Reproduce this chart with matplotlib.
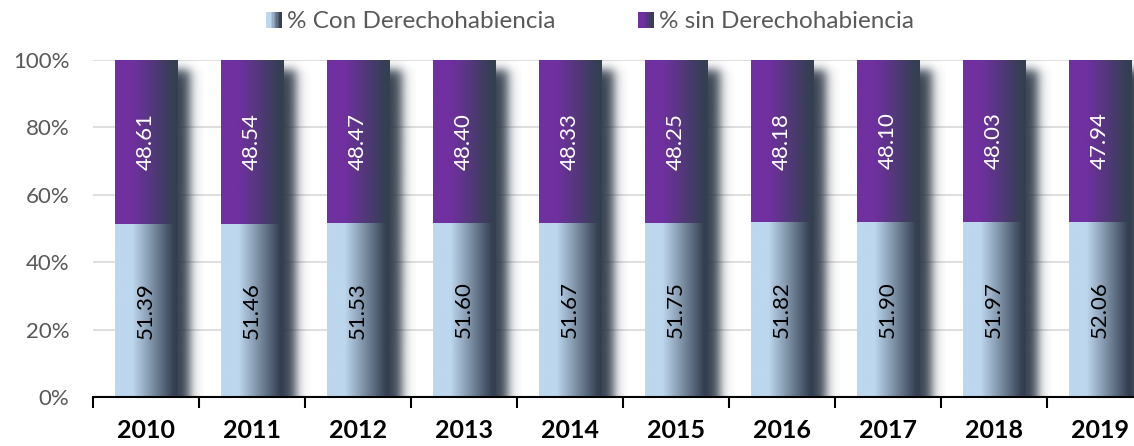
import numpy as np
import matplotlib
matplotlib.use("Agg")
import matplotlib.pyplot as plt
from matplotlib.patches import Rectangle
from matplotlib.legend_handler import HandlerBase
from matplotlib.colors import to_rgb

plt.rcParams['font.family'] = ['Lato', 'DejaVu Sans']

years = ['2010', '2011', '2012', '2013', '2014', '2015', '2016', '2017', '2018', '2019']
con = [51.39, 51.46, 51.53, 51.60, 51.67, 51.75, 51.82, 51.90, 51.97, 52.06]
sin = [48.61, 48.54, 48.47, 48.40, 48.33, 48.25, 48.18, 48.10, 48.03, 47.94]

c_con = '#BDD7EE'
c_sin = '#7030A0'
c_dark = '#344052'

W, H = 1134, 446
fig = plt.figure(figsize=(W / 100, H / 100), dpi=100)
ax_left, ax_right, ax_bot, ax_top = 93, 1134, 397, 60
ax = fig.add_axes([ax_left / W, 1 - ax_bot / H, (ax_right - ax_left) / W, (ax_bot - ax_top) / H])

cat_px = 106.0
px_x = 1 / cat_px
px_y = 100 / (ax_bot - ax_top)
bw = 63 * px_x


def ramp(t):
    return np.clip((t - 0.28) / 0.66, 0, 1)


def grad_row(c0, c1, n=200):
    a = np.array(to_rgb(c0))
    b = np.array(to_rgb(c1))
    f = ramp(np.linspace(0, 1, n))
    return (a[None, :] * (1 - f[:, None]) + b[None, :] * f[:, None])[None, :, :]


img_con = grad_row(c_con, c_dark)
img_sin = grad_row(c_sin, c_dark)

dark = np.array(to_rgb('#2B3646'))


def sig(z):
    return 1 / (1 + np.exp(-z))


for i in range(len(years)):
    x0 = i - bw / 2
    x1 = i + bw / 2
    # soft shadow
    sx0, sx1 = x1 - 4 * px_x, x1 + 26 * px_x
    sy0, sy1 = 0, 100
    xs = np.linspace(sx0, sx1, 60)
    ys = np.linspace(sy1, sy0, 200)
    ax_ = sig((x1 + 12 * px_x - xs) / (3.4 * px_x))
    ay_ = sig((100 - 9 * px_y - ys) / (3.0 * px_y))
    alpha = ay_[:, None] * ax_[None, :] * 0.95
    rgba = np.zeros((len(ys), len(xs), 4))
    rgba[..., :3] = dark
    rgba[..., 3] = alpha
    ax.imshow(rgba, extent=[sx0, sx1, sy0, sy1], aspect='auto', zorder=1.5, interpolation='bilinear')
    # bars
    ax.imshow(img_con, extent=[x0, x1, 0, con[i]], aspect='auto', zorder=2, interpolation='bilinear')
    ax.imshow(img_sin, extent=[x0, x1, con[i], 100], aspect='auto', zorder=2, interpolation='bilinear')
    ax.text(i, con[i] / 2, f'{con[i]:.2f}', rotation=90, ha='center', va='center',
            fontsize=16, color='black', zorder=3)
    ax.text(i, con[i] + sin[i] / 2, f'{sin[i]:.2f}', rotation=90, ha='center', va='center',
            fontsize=16, color='white', zorder=3)

ax.set_yticks([0, 20, 40, 60, 80, 100])
ax.set_yticklabels(['0%', '20%', '40%', '60%', '80%', '100%'], fontsize=16, color='#595959')
ax.tick_params(axis='y', length=0, pad=17)
ax.grid(axis='y', color='#D9D9D9', linewidth=1.2, zorder=0)
ax.set_axisbelow(True)

ax.set_xticks(range(len(years)))
ax.set_xticklabels(years, fontsize=18, fontweight='bold', color='black')
ax.set_xticks(np.arange(-0.5, len(years), 1), minor=True)
ax.tick_params(axis='x', which='major', length=0, pad=16)
ax.tick_params(axis='x', which='minor', length=8, width=1.5, color='black', direction='out')

ax.set_xlim(-0.5, -0.5 + (ax_right - ax_left) / cat_px)
ax.set_ylim(0, 100)

for s in ['left', 'right', 'top']:
    ax.spines[s].set_visible(False)
ax.spines['bottom'].set_color('black')
ax.spines['bottom'].set_linewidth(1.5)
ax.spines['bottom'].set_zorder(4)


class GradHandler(HandlerBase):
    def __init__(self, c0, c1):
        super().__init__()
        self.c0 = np.array(to_rgb(c0))
        self.c1 = np.array(to_rgb(c1))

    def create_artists(self, legend, orig_handle, xdescent, ydescent, width, height, fontsize, trans):
        n = 12
        size = height
        arts = []
        for k in range(n):
            f = ramp(k / (n - 1))
            c = self.c0 * (1 - f) + self.c1 * f
            arts.append(Rectangle((-xdescent + size * k / n, -ydescent), size / n + 0.3, size,
                                  facecolor=c, edgecolor='none', transform=trans))
        return arts


h1 = Rectangle((0, 0), 1, 1)
h2 = Rectangle((0, 0), 1, 1)
fig.legend([h1, h2], ['% Con Derechohabiencia', '% sin Derechohabiencia'],
           handler_map={h1: GradHandler(c_con, c_dark), h2: GradHandler(c_sin, c_dark)},
           loc='center', bbox_to_anchor=(590 / W, 1 - 22 / H), ncol=2, frameon=False,
           fontsize=17.5, labelcolor='#595959', handlelength=0.62, handleheight=0.62,
           handletextpad=0.25, columnspacing=3.4)

fig.savefig('out.png', dpi=100)
